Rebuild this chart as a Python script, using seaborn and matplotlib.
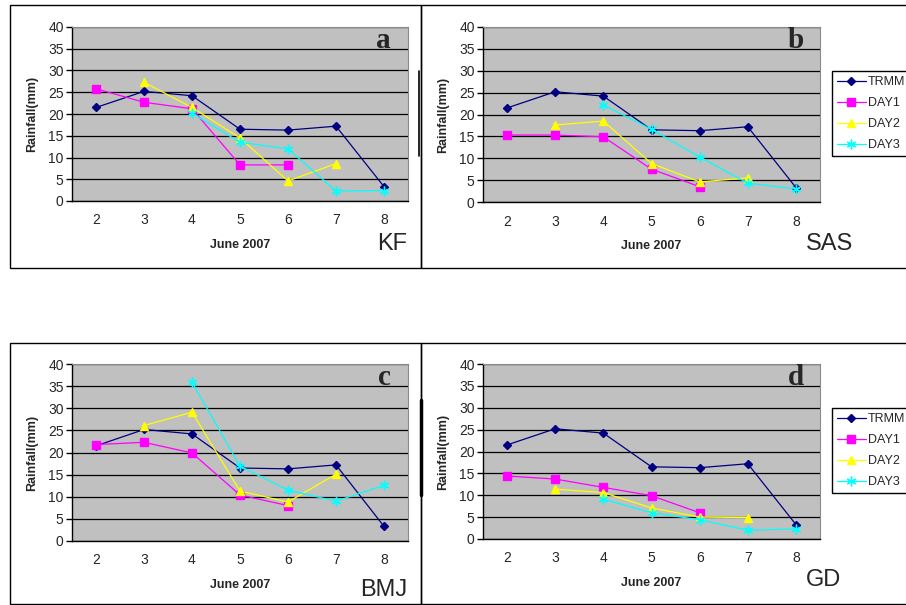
import matplotlib
matplotlib.use('Agg')
import matplotlib.pyplot as plt
from matplotlib.patches import Rectangle
from matplotlib.lines import Line2D
import seaborn as sns

sns.set_style('white')
plt.rcParams['font.family'] = ['Liberation Sans', 'DejaVu Sans']

# June 2007 days
days = [2, 3, 4, 5, 6, 7, 8]
day1_days = [2, 3, 4, 5, 6]
day2_days = [3, 4, 5, 6, 7]
day3_days = [4, 5, 6, 7, 8]

# TRMM observed rainfall (same in every panel)
trmm = [21.5, 25.2, 24.2, 16.5, 16.3, 17.2, 3.3]

# KF scheme forecasts
kf_day1 = [25.8, 22.7, 21.2, 8.3, 8.3]
kf_day2 = [27.3, 21.5, 14.5, 4.6, 8.6]
kf_day3 = [20.2, 13.5, 12.0, 2.3, 2.4]

# SAS scheme forecasts
sas_day1 = [15.3, 15.3, 14.9, 7.5, 3.5]
sas_day2 = [17.6, 18.5, 8.8, 4.6, 5.5]
sas_day3 = [22.2, 16.6, 10.3, 4.3, 3.0]

# BMJ scheme forecasts
bmj_day1 = [21.8, 22.3, 19.9, 10.4, 8.0]
bmj_day2 = [26.1, 29.1, 11.3, 8.8, 15.1]
bmj_day3 = [35.9, 16.9, 11.5, 9.0, 12.6]

# GD scheme forecasts
gd_day1 = [14.4, 13.7, 11.8, 9.9, 6.0]
gd_day2 = [11.4, 10.6, 7.1, 5.0, 4.9]
gd_day3 = [9.1, 6.0, 4.4, 2.0, 2.3]

W, H = 906, 605
fig = plt.figure(figsize=(W / 100, H / 100), dpi=100)


def fx(px):
    return px / W


def fy(py):
    return 1 - py / H


# panel frames (pixel boxes: left, top, right, bottom)
for x0, y0, x1, y1 in [(10, 5, 421, 268), (421, 5, 960, 268),
                       (10, 343, 421, 604), (421, 343, 960, 604)]:
    fig.patches.append(Rectangle((fx(x0), fy(y1)), fx(x1 - x0), (y1 - y0) / H,
                                 transform=fig.transFigure, fill=False,
                                 edgecolor='black', linewidth=1.0, zorder=0))

# edges of hidden legends peeking out from behind the right panels
fig.lines.append(Line2D([fx(418.5), fx(418.5)], [fy(71), fy(156)],
                        transform=fig.transFigure, color='black', linewidth=1.2))
fig.lines.append(Line2D([fx(420.5), fx(420.5)], [fy(400), fy(495)],
                        transform=fig.transFigure, color='black', linewidth=2.5))

panels = [
    dict(box=(72, 27, 408, 201), letter='a', name='KF', d1=kf_day1, d2=kf_day2, d3=kf_day3,
         letter_xy=(391, 48), name_xy=(407, 250), name_ha='right', legend=False),
    dict(box=(483, 27, 820, 202), letter='b', name='SAS', d1=sas_day1, d2=sas_day2, d3=sas_day3,
         letter_xy=(804, 48), name_xy=(806, 250), name_ha='left', legend=True, leg_top=71),
    dict(box=(72, 364, 408, 541), letter='c', name='BMJ', d1=bmj_day1, d2=bmj_day2, d3=bmj_day3,
         letter_xy=(391, 385), name_xy=(407, 596), name_ha='right', legend=False),
    dict(box=(483, 364, 820, 539), letter='d', name='GD', d1=gd_day1, d2=gd_day2, d3=gd_day3,
         letter_xy=(804, 385), name_xy=(806, 586), name_ha='left', legend=True, leg_top=408),
]

series_style = [
    ('TRMM', '#000080', 'D', 4.5),
    ('DAY1', '#ff00ff', 's', 5.5),
    ('DAY2', '#ffff00', '^', 6),
    ('DAY3', '#00ffff', (6, 2, 0), 7),
]

for p in panels:
    x0, y0, x1, y1 = p['box']
    ax = fig.add_axes([fx(x0), fy(y1), fx(x1 - x0), (y1 - y0) / H])
    ax.set_facecolor('#c0c0c0')

    data = [(days, trmm), (day1_days, p['d1']), (day2_days, p['d2']), (day3_days, p['d3'])]
    for (xs, ys), (lab, col, mk, ms) in zip(data, series_style):
        sns.lineplot(x=xs, y=ys, ax=ax, color=col, marker=mk, markersize=ms,
                     markeredgecolor=col, markeredgewidth=1.0, linewidth=0.9,
                     label=lab, zorder=3)

    ax.set_xlim(1.5, 8.5)
    ax.set_ylim(0, 40)
    ax.set_yticks(range(0, 41, 5))
    ax.set_xticks([d + 0.5 for d in [1] + days])
    ax.set_xticklabels([])
    ax.set_xticks(days, minor=True)
    ax.set_xticklabels([str(d) for d in days], minor=True)
    ax.tick_params(axis='x', which='major', direction='out', length=4, width=1, color='black')
    ax.tick_params(axis='x', which='minor', length=0, pad=9, labelsize=10)
    ax.tick_params(axis='y', direction='out', length=4, width=1, color='black',
                   labelsize=10, pad=2, left=True)
    ax.yaxis.grid(True, color='black', linewidth=0.9)
    ax.xaxis.grid(False)
    ax.set_axisbelow(True)
    for s in ['left', 'bottom']:
        ax.spines[s].set_color('black')
        ax.spines[s].set_linewidth(1.0)
    for s in ['top', 'right']:
        ax.spines[s].set_color('#8a8a8a')
        ax.spines[s].set_linewidth(0.8)

    ax.set_ylabel('Rainfall(mm)', fontsize=9, fontweight='bold')
    ax.yaxis.set_label_coords(-34 / (x1 - x0), 0.5)
    ax.set_xlabel('June 2007', fontsize=9, fontweight='bold')
    ax.xaxis.set_label_coords(0.5, -38 / (y1 - y0))

    if p['legend']:
        ax.legend(loc='upper left', bbox_to_anchor=(fx(832), fy(p['leg_top'])),
                  bbox_transform=fig.transFigure, frameon=True, fancybox=False,
                  edgecolor='black', framealpha=1, fontsize=9, borderpad=0.4,
                  handlelength=2.3, handletextpad=0.15, labelspacing=0.72,
                  borderaxespad=0)
        ax.get_legend().get_frame().set_linewidth(1.0)
    else:
        if ax.get_legend() is not None:
            ax.get_legend().remove()

    fig.text(fx(p['letter_xy'][0]), fy(p['letter_xy'][1]), p['letter'],
             family=['Liberation Serif', 'DejaVu Serif'], fontsize=21,
             fontweight='bold', ha='right', va='baseline')
    fig.text(fx(p['name_xy'][0]), fy(p['name_xy'][1]), p['name'],
             fontsize=17, ha=p['name_ha'], va='baseline')

fig.savefig('out.png', dpi=100)
